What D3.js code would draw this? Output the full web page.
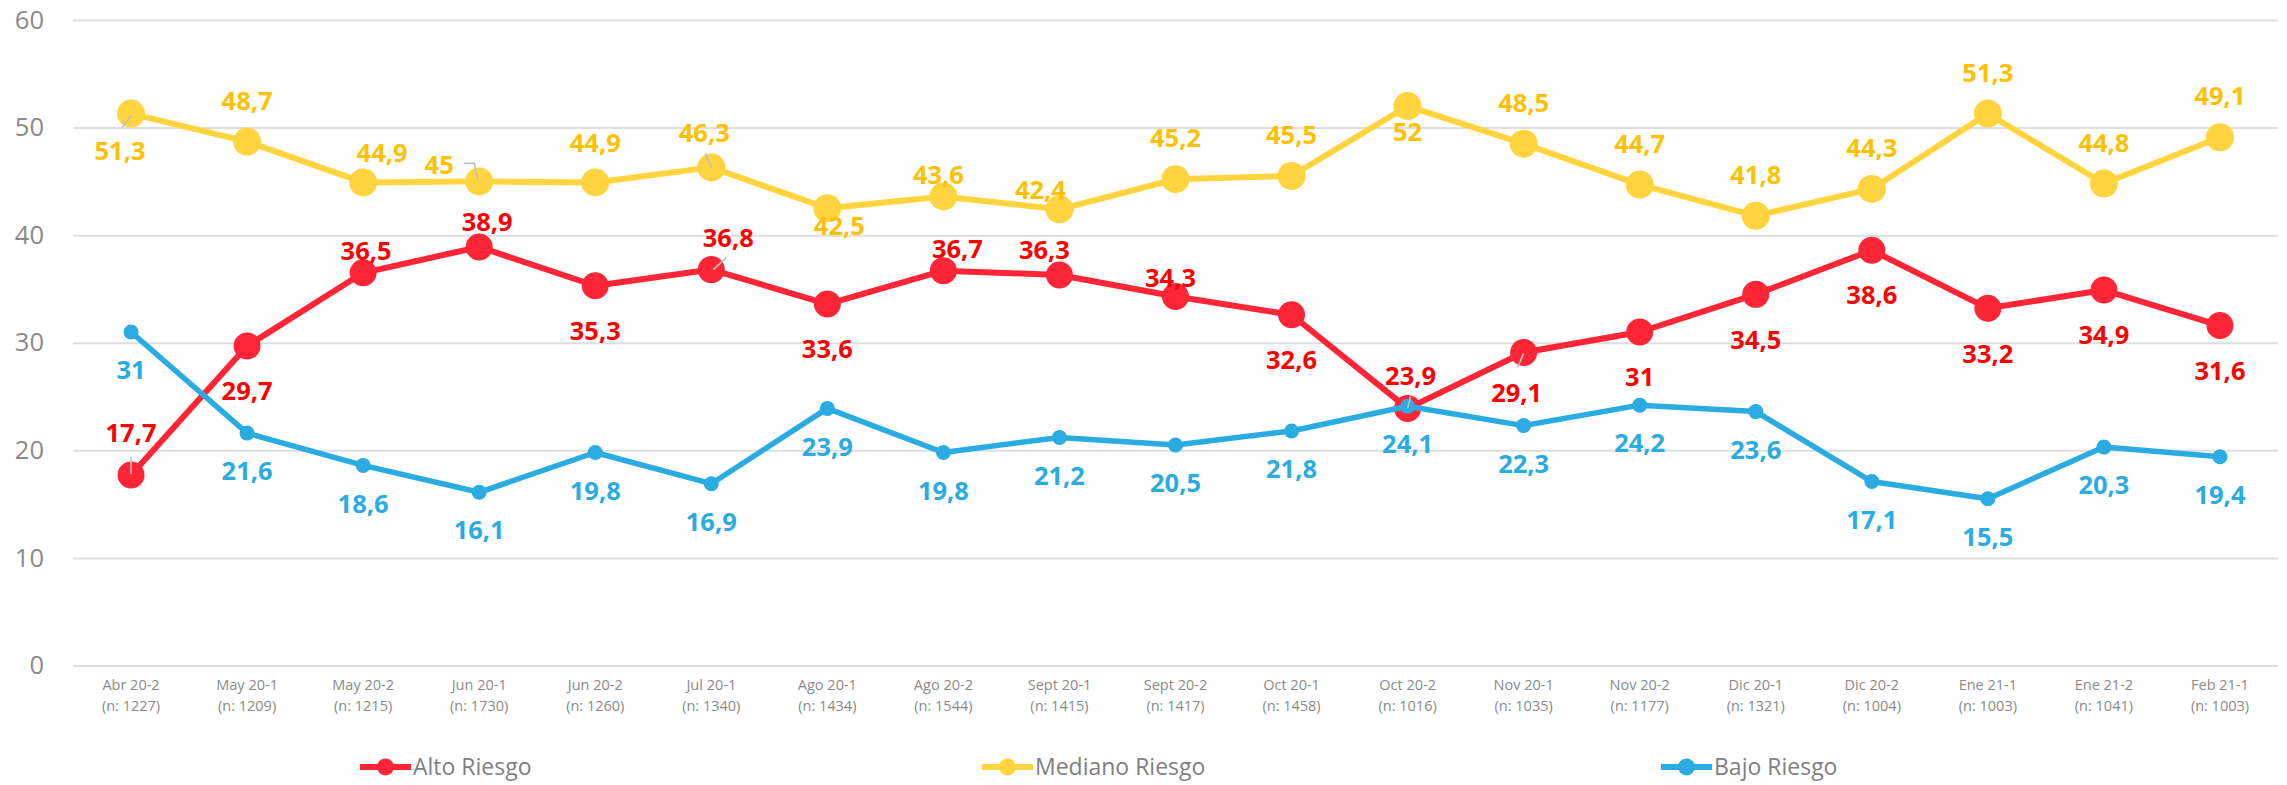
<!DOCTYPE html>
<html lang="es">
<head>
<meta charset="utf-8">
<script src="https://cdn.jsdelivr.net/npm/d3@7/dist/d3.min.js"></script>
<style>
  html, body { margin: 0; padding: 0; background: #ffffff; }
  svg { display: block; font-family: "Open Sans", "Noto Sans", sans-serif; }
</style>
</head>
<body>
<svg id="chart" width="2287" height="785"></svg>
<script>
// Survey waves (with sample size) and share of respondents per risk level
const categories = ["Abr 20-2", "May 20-1", "May 20-2", "Jun 20-1", "Jun 20-2", "Jul 20-1",
  "Ago 20-1", "Ago 20-2", "Sept 20-1", "Sept 20-2", "Oct 20-1", "Oct 20-2", "Nov 20-1",
  "Nov 20-2", "Dic 20-1", "Dic 20-2", "Ene 21-1", "Ene 21-2", "Feb 21-1"];
const sampleSizes = [1227, 1209, 1215, 1730, 1260, 1340, 1434, 1544, 1415, 1417, 1458,
  1016, 1035, 1177, 1321, 1004, 1003, 1041, 1003];

const altoRiesgo = [17.7, 29.7, 36.5, 38.9, 35.3, 36.8, 33.6, 36.7, 36.3, 34.3, 32.6,
  23.9, 29.1, 31, 34.5, 38.6, 33.2, 34.9, 31.6];
const medianoRiesgo = [51.3, 48.7, 44.9, 45, 44.9, 46.3, 42.5, 43.6, 42.4, 45.2, 45.5,
  52, 48.5, 44.7, 41.8, 44.3, 51.3, 44.8, 49.1];
const bajoRiesgo = [31, 21.6, 18.6, 16.1, 19.8, 16.9, 23.9, 19.8, 21.2, 20.5, 21.8,
  24.1, 22.3, 24.2, 23.6, 17.1, 15.5, 20.3, 19.4];

const seriesNames = ["Alto Riesgo", "Mediano Riesgo", "Bajo Riesgo"];
const yTicks = [0, 10, 20, 30, 40, 50, 60];

// Label offsets from each point (dx, dy in px)
const altoLabelOffsets = [[0, -42], [0, 45], [3, -22], [8, -25], [0, 45], [17, -32], [0, 45],
  [14, -22], [-15, -25], [-5, -19], [0, 45], [3, -33], [-7, 40], [0, 45], [0, 45], [0, 45],
  [0, 45], [0, 45], [0, 45]];
const medianoLabelOffsets = [[-11, 37], [0, -41], [19, -30], [-40, -17], [0, -40], [-7, -35],
  [12, 18], [-5, -22], [-19, -20], [0, -41], [0, -41], [0, 26], [0, -41], [0, -41], [0, -41],
  [0, -41], [0, -41], [0, -41], [0, -41]];
const bajoLabelOffsets = categories.map(() => [0, 38]);

// Leader lines joining moved labels to their points (relative to the point)
const leaderLines = [
  { s: 1, i: 0, pts: [[-9, 14], [0, 2]] },
  { s: 1, i: 3, pts: [[-15, -18], [-5, -18], [-1, -1]] },
  { s: 1, i: 5, pts: [[-6, -14], [0, 0]] },
  { s: 0, i: 0, pts: [[0, -18], [0, -1]] },
  { s: 0, i: 5, pts: [[15, -12], [2, 0]] },
  { s: 0, i: 11, pts: [[3, -12], [0, 0]] },
  { s: 0, i: 12, pts: [[-6, 15], [0, 1]] }
];

const series = [
  { name: seriesNames[0], values: altoRiesgo, offsets: altoLabelOffsets,
    color: "#fe2636", text: "#ff0000", r: 13.5, width: 6 },
  { name: seriesNames[1], values: medianoRiesgo, offsets: medianoLabelOffsets,
    color: "#ffd43f", text: "#ffc000", r: 14, width: 6 },
  { name: seriesNames[2], values: bajoRiesgo, offsets: bajoLabelOffsets,
    color: "#2aabe1", text: "#2aabe1", r: 7.5, width: 5.5 }
];

const svg = d3.select("#chart");
const plot = { left: 73, right: 2278, top: 20, bottom: 665.5 };

const x = d3.scaleBand().domain(categories).range([plot.left, plot.right]);
const y = d3.scaleLinear().domain([0, 60]).range([plot.bottom, plot.top]);
const cx = c => x(c) + x.bandwidth() / 2;

// Horizontal gridlines and value axis
const yAxis = svg.append("g")
  .attr("transform", `translate(${plot.left},0)`)
  .call(d3.axisLeft(y).tickValues(yTicks).tickSize(-(plot.right - plot.left)).tickPadding(29));
yAxis.select(".domain").remove();
yAxis.selectAll(".tick line").attr("stroke", "#dedede").attr("stroke-width", 2);
yAxis.selectAll(".tick text")
  .attr("fill", "#8a8a8a").attr("font-size", 25.5).attr("font-family", "Open Sans, sans-serif");

// Category axis with two-line labels
const xAxis = svg.append("g")
  .attr("transform", `translate(0,${plot.bottom})`)
  .call(d3.axisBottom(x).tickSize(0).tickFormat(""));
xAxis.select(".domain").remove();
xAxis.selectAll(".tick").each(function (c, i) {
  const t = d3.select(this).append("text")
    .attr("fill", "#8a8a8a").attr("font-size", 14.5).attr("text-anchor", "middle")
    .attr("font-family", "Open Sans, sans-serif");
  t.append("tspan").attr("x", 0).attr("y", 19.5).attr("dy", "0.35em").text(c);
  t.append("tspan").attr("x", 0).attr("y", 40.5).attr("dy", "0.35em").text(`(n: ${sampleSizes[i]})`);
});

// Lines and markers
const line = d3.line().x((d, i) => cx(categories[i])).y(d => y(d));
series.forEach(s => {
  const g = svg.append("g");
  g.append("path").datum(s.values)
    .attr("d", line).attr("fill", "none")
    .attr("stroke", s.color).attr("stroke-width", s.width)
    .attr("stroke-linejoin", "round");
  g.selectAll("circle").data(s.values).join("circle")
    .attr("cx", (d, i) => cx(categories[i])).attr("cy", d => y(d))
    .attr("r", s.r).attr("fill", s.color);
});

// Leader lines
leaderLines.forEach(l => {
  const s = series[l.s];
  const px = cx(categories[l.i]), py = y(s.values[l.i]);
  svg.append("polyline")
    .attr("points", l.pts.map(p => `${px + p[0]},${py + p[1]}`).join(" "))
    .attr("fill", "none").attr("stroke", "#bfbfbf").attr("stroke-width", 1.6);
});

// Data labels
const fmt = v => String(v).replace(".", ",");
series.forEach(s => {
  svg.append("g").selectAll("text").data(s.values).join("text")
    .attr("x", (d, i) => cx(categories[i]) + s.offsets[i][0])
    .attr("y", (d, i) => y(d) + s.offsets[i][1])
    .attr("dy", "0.36em").attr("text-anchor", "middle")
    .attr("font-size", 25.5).attr("font-weight", 700).attr("fill", s.text)
    .text(fmt);
});

// Legend
const legendX = [360, 982, 1661];
const legend = svg.append("g").attr("transform", "translate(0,767)");
series.forEach((s, k) => {
  const g = legend.append("g").attr("transform", `translate(${legendX[k]},0)`);
  g.append("line").attr("x1", 0).attr("x2", 51).attr("y1", 0).attr("y2", 0)
    .attr("stroke", s.color).attr("stroke-width", 6);
  g.append("circle").attr("cx", 25.5).attr("cy", 0).attr("r", 8.5).attr("fill", s.color);
  g.append("text").attr("x", 53).attr("y", 0).attr("dy", "0.35em")
    .attr("font-size", 23).attr("fill", "#7f7f7f").text(s.name);
});
</script>
</body>
</html>
